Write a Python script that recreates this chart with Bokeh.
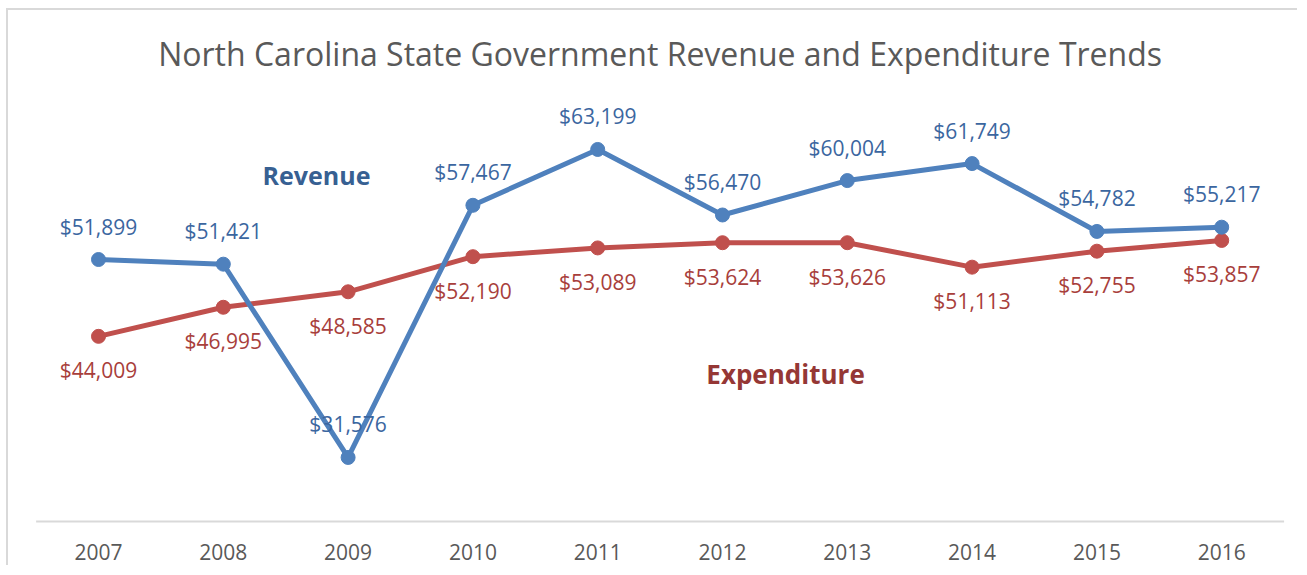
from bokeh.plotting import figure
from bokeh.layouts import column
from bokeh.models import ColumnDataSource, Range1d, FixedTicker, Label
from bokeh.core.properties import value
from bokeh.embed import file_html
from bokeh.resources import INLINE

years = ["2007", "2008", "2009", "2010", "2011", "2012", "2013", "2014", "2015", "2016"]
revenue = [51899, 51421, 31576, 57467, 63199, 56470, 60004, 61749, 54782, 55217]
expenditure = [44009, 46995, 48585, 52190, 53089, 53624, 53626, 51113, 52755, 53857]

FONT = "Open Sans"
REV_LINE = "#4f81bd"
EXP_LINE = "#c0504d"
REV_TXT = "#3b66a0"
EXP_TXT = "#a83e3b"

xs = list(range(len(years)))
rev_src = ColumnDataSource(dict(x=xs, y=revenue, lab=[f"${v:,}" for v in revenue]))
exp_src = ColumnDataSource(dict(x=xs, y=expenditure, lab=[f"${v:,}" for v in expenditure]))

W, H = 1291, 557
p = figure(width=W, height=H, output_backend="svg", toolbar_location=None,
           x_range=Range1d(-0.7212, 9.6234), y_range=Range1d(24692, 77466),
           y_axis_location=None,
           min_border_left=0, min_border_right=0, min_border_top=0, min_border_bottom=43,
           styles={"border-top": "2px solid #d9d9d9", "border-left": "2px solid #d9d9d9"})
p.outline_line_color = None
p.grid.visible = False
p.background_fill_color = "white"
p.border_fill_color = "white"

ax = p.xaxis[0]
ax.ticker = FixedTicker(ticks=xs)
ax.major_label_overrides = {i: y for i, y in enumerate(years)}
ax.axis_line_color = None
ax.major_tick_line_color = None
ax.minor_tick_line_color = None
ax.major_label_text_font = FONT
ax.major_label_text_font_size = "21px"
ax.major_label_text_color = "#595959"
ax.major_label_standoff = 13

# baseline of category axis
p.segment(x0=[xs[0] - 0.5], y0=[25000], x1=[xs[-1] + 0.5], y1=[25000],
          line_color="#d9d9d9", line_width=2)

p.line("x", "y", source=exp_src, line_color=EXP_LINE, line_width=5)
p.scatter("x", "y", source=exp_src, size=14, fill_color=EXP_LINE, line_color=EXP_LINE)
p.line("x", "y", source=rev_src, line_color=REV_LINE, line_width=5)
p.scatter("x", "y", source=rev_src, size=14, fill_color=REV_LINE, line_color=REV_LINE)

p.text("x", "y", text="lab", source=rev_src, text_align="center", text_baseline="middle",
       y_offset=-33, text_font=value(FONT), text_font_size="21px", text_color=REV_TXT)
p.text("x", "y", text="lab", source=exp_src, text_align="center", text_baseline="middle",
       y_offset=34, text_font=value(FONT), text_font_size="21px", text_color=EXP_TXT)

p.add_layout(Label(x=4.5, y=73056, text="North Carolina State Government Revenue and Expenditure Trends",
                   text_align="center", text_baseline="middle", text_font=FONT,
                   text_font_size="32px", text_color="#595959"))
p.add_layout(Label(x=1.747, y=60530, text="Revenue", text_align="center", text_baseline="middle",
                   text_font=FONT, text_font_size="25px", text_font_style="bold", text_color="#376092"))
p.add_layout(Label(x=5.505, y=40098, text="Expenditure", text_align="center", text_baseline="middle",
                   text_font=FONT, text_font_size="26px", text_font_style="bold", text_color="#953735"))

root = column(p, styles={"padding-left": "6px", "padding-top": "8px", "background-color": "white"})

open("out.html", "w").write(file_html(root, INLINE))
